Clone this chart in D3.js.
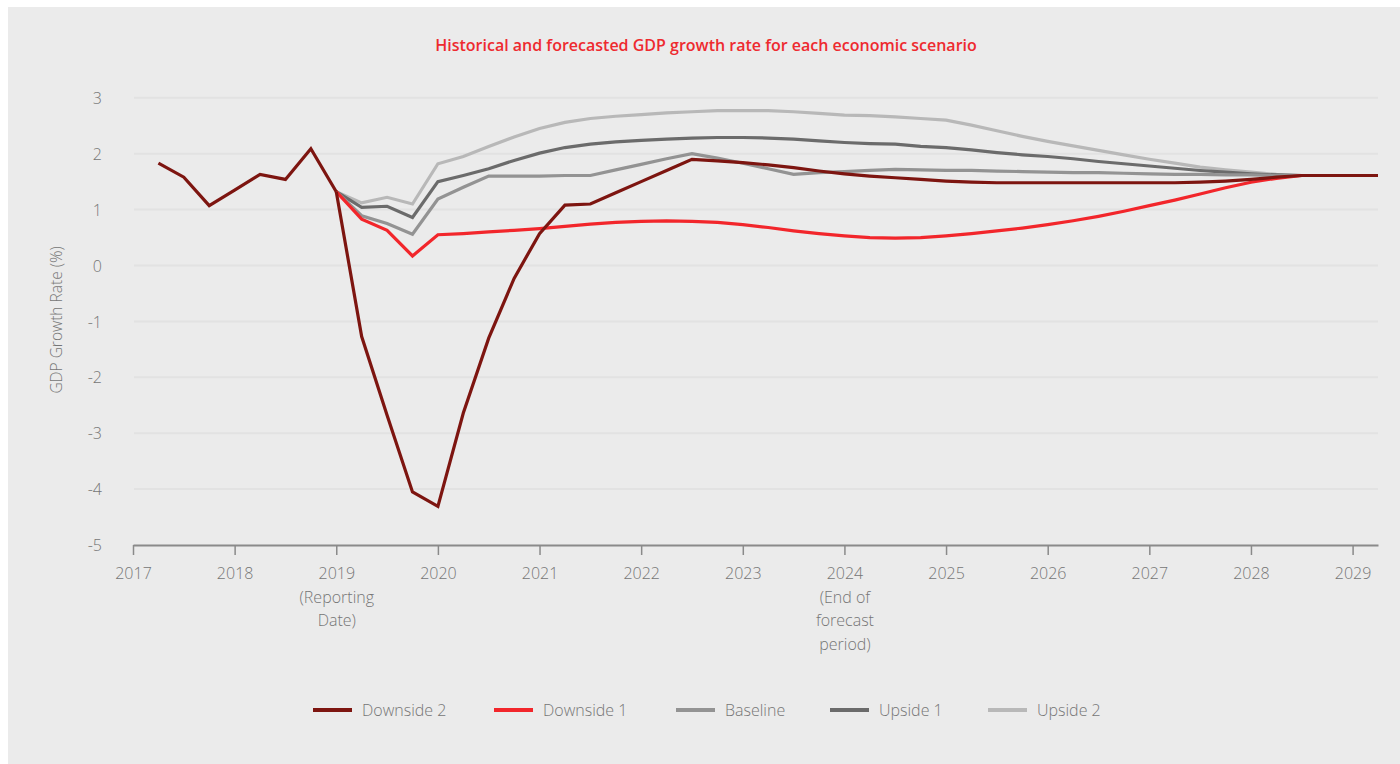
<!DOCTYPE html>
<html>
<head>
<meta charset="utf-8">
<script src="https://cdn.jsdelivr.net/npm/d3@7"></script>
<style>
  html, body { margin: 0; padding: 0; background: #ffffff; }
  svg { display: block; }
  .lbl { font-family: "Open Sans", "Noto Sans", sans-serif; font-weight: 300; fill: #767676; }
</style>
</head>
<body>
<svg id="chart" width="1400" height="764"></svg>
<script>
// Historical quarters (all scenarios share the same path up to the reporting date)
const historyQuarters = [2017.25, 2017.5, 2017.75, 2018.0, 2018.25, 2018.5, 2018.75, 2019.0];
const historyValues   = [1.83, 1.58, 1.07, 1.35, 1.63, 1.54, 2.09, 1.32];

// Forecast quarters, 2019 Q1 through 2029 Q2
const forecastQuarters = d3.range(0, 42).map(i => 2019 + i * 0.25);

const downside2 = [1.32, -1.27, -2.68, -4.05, -4.31, -2.64, -1.30, -0.23, 0.57, 1.08, 1.10, 1.30, 1.50, 1.70, 1.90, 1.87,
  1.84, 1.80, 1.75, 1.69, 1.64, 1.60, 1.57, 1.54, 1.51, 1.49, 1.48, 1.48, 1.48, 1.48, 1.48, 1.48,
  1.48, 1.48, 1.49, 1.51, 1.54, 1.58, 1.61, 1.61, 1.61, 1.61];
const downside1 = [1.32, 0.83, 0.63, 0.17, 0.55, 0.57, 0.60, 0.63, 0.66, 0.70, 0.74, 0.77, 0.79, 0.80, 0.79, 0.77,
  0.73, 0.68, 0.62, 0.57, 0.53, 0.50, 0.49, 0.50, 0.53, 0.57, 0.62, 0.67, 0.73, 0.80, 0.88, 0.97,
  1.07, 1.17, 1.28, 1.39, 1.49, 1.56, 1.61, 1.61, 1.61, 1.61];
const baseline = [1.32, 0.89, 0.75, 0.56, 1.19, 1.40, 1.60, 1.60, 1.60, 1.61, 1.61, 1.71, 1.81, 1.91, 2.00, 1.92,
  1.83, 1.73, 1.63, 1.66, 1.68, 1.70, 1.72, 1.71, 1.70, 1.70, 1.69, 1.68, 1.67, 1.66, 1.66, 1.65,
  1.64, 1.63, 1.63, 1.62, 1.62, 1.61, 1.61, 1.61, 1.61, 1.61];
const upside1 = [1.32, 1.04, 1.06, 0.86, 1.50, 1.61, 1.73, 1.88, 2.01, 2.11, 2.17, 2.21, 2.24, 2.26, 2.28, 2.29,
  2.29, 2.28, 2.26, 2.23, 2.20, 2.18, 2.17, 2.13, 2.11, 2.07, 2.02, 1.98, 1.95, 1.91, 1.86, 1.82,
  1.78, 1.74, 1.70, 1.67, 1.64, 1.62, 1.61, 1.61, 1.61, 1.61];
const upside2 = [1.32, 1.12, 1.22, 1.10, 1.82, 1.95, 2.13, 2.30, 2.45, 2.56, 2.63, 2.67, 2.70, 2.73, 2.75, 2.77,
  2.77, 2.77, 2.75, 2.72, 2.69, 2.68, 2.66, 2.63, 2.60, 2.51, 2.41, 2.31, 2.22, 2.14, 2.06, 1.98,
  1.90, 1.83, 1.76, 1.71, 1.67, 1.63, 1.61, 1.61, 1.61, 1.61];

const seriesNames  = ["Downside 2", "Downside 1", "Baseline", "Upside 1", "Upside 2"];
const seriesColors = ["#7d1510", "#f2262b", "#939393", "#6b6b6b", "#b8b8b8"];
const seriesValues = [downside2, downside1, baseline, upside1, upside2];

const yearTicks = d3.range(2017, 2030);
const yearNotes = { 2019: ["(Reporting", "Date)"], 2024: ["(End of", "forecast", "period)"] };
const yTicks = [3, 2, 1, 0, -1, -2, -3, -4, -5];

const svg = d3.select("#chart");

// Panel background
svg.append("rect").attr("x", 8).attr("y", 7).attr("width", 1392).attr("height", 757).attr("fill", "#ebebeb");

const x = d3.scaleLinear().domain([2017, 2029.25]).range([133, 1378]);
const y = d3.scaleLinear().domain([-5, 3]).range([545, 97.8]);

// Title
svg.append("text")
  .attr("x", 706).attr("y", 51)
  .attr("text-anchor", "middle")
  .style("font-family", "'Open Sans', sans-serif")
  .style("font-weight", 600)
  .style("font-size", "16px")
  .attr("fill", "#ee2a2f")
  .text("Historical and forecasted GDP growth rate for each economic scenario");

// Horizontal gridlines
svg.append("g").selectAll("line").data(yTicks.filter(d => d !== -5)).join("line")
  .attr("x1", 134).attr("x2", 1378)
  .attr("y1", d => y(d)).attr("y2", d => y(d))
  .attr("stroke", "#e2e2e2").attr("stroke-width", 2);

// Y axis tick labels (plain hyphen for negatives)
const yAxis = svg.append("g").attr("transform", "translate(102,0)")
  .call(d3.axisLeft(y).tickValues(yTicks).tickSize(0).tickPadding(0).tickFormat(d => String(d)));
yAxis.select(".domain").remove();
yAxis.selectAll("text").attr("class", "lbl").style("font-size", "16px").attr("dy", "0.35em");

// Y axis title
svg.append("text")
  .attr("class", "lbl")
  .attr("transform", "translate(62,320) rotate(-90)")
  .attr("text-anchor", "middle")
  .style("font-size", "15.5px")
  .text("GDP Growth Rate (%)");

// X axis
const xAxis = svg.append("g").attr("transform", `translate(0,${y(-5)})`)
  .call(d3.axisBottom(x).tickValues(yearTicks).tickSize(10).tickSizeOuter(0).tickFormat(d3.format("d")).tickPadding(13));
xAxis.select(".domain").attr("stroke", "#8a8a8a").attr("stroke-width", 2);
xAxis.selectAll(".tick line").attr("stroke", "#8a8a8a").attr("stroke-width", 1.5);
xAxis.selectAll(".tick text").attr("class", "lbl").style("font-size", "16px").attr("fill", null);
xAxis.selectAll(".tick").each(function(d) {
  const notes = yearNotes[d];
  if (!notes) return;
  const t = d3.select(this).select("text");
  notes.forEach(line => {
    t.append("tspan").attr("x", 0).attr("dy", "1.47em").text(line);
  });
});

// Lines
const line = d3.line().x(d => x(d[0])).y(d => y(d[1])).curve(d3.curveLinear);
const plotOrder = [4, 3, 2, 1, 0];
plotOrder.forEach(i => {
  const pts = forecastQuarters.map((q, k) => [q, seriesValues[i][k]]);
  svg.append("path")
    .attr("d", line(pts))
    .attr("fill", "none")
    .attr("stroke", seriesColors[i])
    .attr("stroke-width", 3.2)
    .attr("stroke-linejoin", "miter");
});
svg.append("path")
  .attr("d", line(historyQuarters.map((q, k) => [q, historyValues[k]])))
  .attr("fill", "none")
  .attr("stroke", seriesColors[0])
  .attr("stroke-width", 3.2);

// Legend
const legendX = [313, 494, 676, 830, 988];
const legend = svg.append("g").selectAll("g").data(seriesNames).join("g")
  .attr("transform", (d, i) => `translate(${legendX[i]},710)`);
legend.append("line").attr("x1", 0).attr("x2", 39).attr("y1", 0).attr("y2", 0)
  .attr("stroke", (d, i) => seriesColors[i]).attr("stroke-width", 4);
legend.append("text").attr("class", "lbl").attr("x", 49).attr("y", 0).attr("dy", "0.35em")
  .style("font-size", "16px").text(d => d);
</script>
</body>
</html>
